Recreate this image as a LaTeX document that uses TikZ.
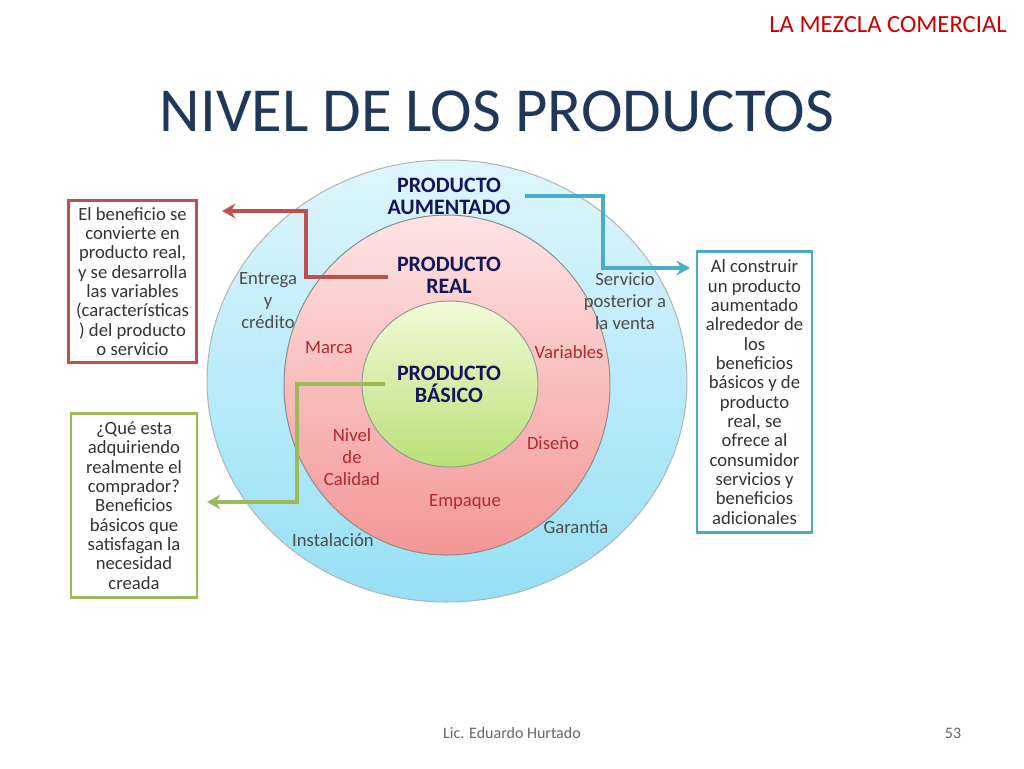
\documentclass[tikz,border=0pt]{standalone}
\usepackage{fontspec}
\setmainfont{Carlito}
\usetikzlibrary{arrows.meta}
\definecolor{navy}{RGB}{20,20,90}
\definecolor{titleblue}{RGB}{31,56,90}
\definecolor{realred}{RGB}{176,42,48}
\definecolor{boxred}{RGB}{192,80,77}
\definecolor{boxgreen}{RGB}{155,187,89}
\definecolor{boxblue}{RGB}{75,172,198}
\tikzset{every picture/.style={line width=0.75pt}}
\tikzset{
  head/.style={font=\bfseries\fontsize{16.5}{16.5}\selectfont, text=navy, align=center, inner sep=0.75pt},
  outerlbl/.style={text=black!70, align=center, inner sep=0.75pt, font=\fontsize{14}{14.5}\selectfont},
  reallbl/.style={text=realred, align=center, inner sep=0.75pt, font=\fontsize{14}{14.5}\selectfont},
  notebox/.style={draw=#1, line width=1.8pt, text=black!80, align=center, inner sep=0.75pt, font=\fontsize{14}{14.5}\selectfont},
  link/.style={draw=#1, line width=2.6pt, -{Stealth[length=10pt,width=11pt]}}
}
\begin{document}
\begin{tikzpicture}[x=0.75pt,y=0.75pt,yscale=-1,xscale=1]
\useasboundingbox (0,0) rectangle (1024,768);

%Shape: Circles
\shade [top color={rgb,255:red,222;green,246;blue,252}, bottom color={rgb,255:red,150;green,224;blue,245}, draw=black!30] (447,381) ellipse [x radius=240, y radius=221];
\shade [top color={rgb,255:red,254;green,228;blue,228}, bottom color={rgb,255:red,243;green,150;blue,150}, draw=black!45] (447,385) ellipse [x radius=163, y radius=170];
\shade [top color={rgb,255:red,242;green,250;blue,215}, bottom color={rgb,255:red,185;green,224;blue,120}, draw=black!40] (450,384) ellipse [x radius=88, y radius=83];

% Title Nodes
\draw (888,25) node [text=red!80!black, font=\fontsize{18.5}{20}\selectfont] (tema) {LA MEZCLA COMERCIAL};
\draw (497,111) node [text=titleblue, font=\fontsize{47}{50}\selectfont] (titulo) {NIVEL DE LOS PRODUCTOS};
\draw (512,733) node [text=black!60, font=\fontsize{12}{14}\selectfont] (autor) {Lic. Eduardo Hurtado};
\draw (953,733) node [text=black!60, font=\fontsize{12}{14}\selectfont] (pagina) {53};

% Head Nodes
\draw (449,196) node [head, anchor=center] (aumentado) {PRODUCTO\\AUMENTADO};
\draw (449,275) node [head, anchor=center] (real) {PRODUCTO\\REAL};
\draw (449,384) node [head, anchor=center] (basico) {PRODUCTO\\BÁSICO};

% Text Node
\draw (268,301) node [outerlbl] (entrega) {Entrega\\[2pt]y\\[2pt]crédito};
\draw (625,301) node [outerlbl] (servicio) {Servicio\\[2pt]posterior a\\[2pt]la venta};
\draw (333,540) node [outerlbl] (instalacion) {Instalación};
\draw (576,527) node [outerlbl] (garantia) {Garantía};
\draw (329,348) node [reallbl] (marca) {Marca};
\draw (569,352) node [reallbl] (variables) {Variables};
\draw (352,457) node [reallbl] (calidad) {Nivel\\[2pt]de\\[2pt]Calidad};
\draw (553,443) node [reallbl] (diseno) {Diseño};
\draw (465,502) node [reallbl] (empaque) {Empaque};

% Note Boxes
\draw (132.5,281.5) node [notebox=boxred, minimum width=96pt, minimum height=121.5pt] (notareal) {El beneficio se\\convierte en\\producto real,\\y se desarrolla\\las variables\\(características\\) del producto\\o servicio};
\draw (134,505.5) node [notebox=boxgreen, minimum width=94.5pt, minimum height=138pt] (notabasico) {¿Qué esta\\adquiriendo\\realmente el\\comprador?\\Beneficios\\básicos que\\satisfagan la\\necesidad\\creada};
\draw (754.5,392) node [notebox=boxblue, minimum width=86pt, minimum height=211pt] (notaaum) {Al construir\\un producto\\aumentado\\alrededor de\\los\\beneficios\\básicos y de\\producto\\real, se\\ofrece al\\consumidor\\servicios y\\beneficios\\adicionales};

% Connectors
\coordinate (rojofin) at (222,211);
\coordinate (verdefin) at (207,502);
\coordinate (azulfin) at (690,268);
\draw [link=boxred] (388,277) -- (306,277) -- (306,211) -- (rojofin);
\draw [link=boxblue] (525,196) -- (603,196) -- (603,268) -- (azulfin);
\draw [link=boxgreen] (385,384) -- (297,384) -- (297,502) -- (verdefin);

\end{tikzpicture}
\end{document}
